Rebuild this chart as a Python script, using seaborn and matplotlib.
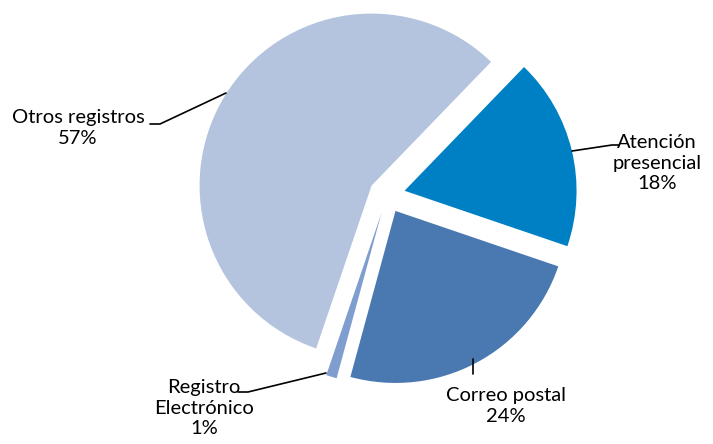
import matplotlib
matplotlib.use("Agg")
import matplotlib.pyplot as plt
import seaborn as sns

categories = ["Atención\npresencial", "Correo postal", "Registro\nElectrónico", "Otros registros"]
shares = [18, 24, 1, 57]
colors = ["#0080C4", "#4A78B0", "#7F9ECF", "#B4C4DE"]

sns.set_style("white")
plt.rcParams["font.family"] = ["Lato", "DejaVu Sans"]

W, H = 713, 444
CX, CY, R = 387, 195, 172  # pie centre / radius in pixels


def px(x, y):
    # pixel position (from top-left) -> data coords
    return (x - CX) / R, (CY - y) / R


fig = plt.figure(figsize=(W / 100, H / 100), dpi=100)
ax = fig.add_axes([0, 0, 1, 1])

ax.pie(shares, colors=colors, startangle=46, counterclock=False,
       explode=[0.105] * len(shares), radius=1.0,
       wedgeprops=dict(linewidth=0))
ax.set_aspect("equal")
ax.set_xlim(-CX / R, (W - CX) / R)
ax.set_ylim(-(H - CY) / R, CY / R)
ax.axis("off")

# leader lines and labels
leaders = [
    [(572, 151), (612, 145), (619, 145)],
    [(473, 359), (473, 374)],
    [(326, 373), (248, 392), (238, 392)],
    [(226, 93), (160, 124), (150, 124)],
]
label_pos = [(657, 163), (506, 406), (204, 408), (78, 128)]
texts = [
    "Atención\npresencial\n18%",
    "Correo postal\n24%",
    "Registro\nElectrónico\n1%",
    "Otros registros\n57%",
]

for pts, pos, txt in zip(leaders, label_pos, texts):
    xs, ys = zip(*[px(*p) for p in pts])
    ax.plot(xs, ys, color="black", lw=1.2)
    ax.text(*px(*pos), txt, ha="center", va="center", fontsize=14.5,
            linespacing=1.22, color="black")

fig.savefig("out.png", dpi=100)
